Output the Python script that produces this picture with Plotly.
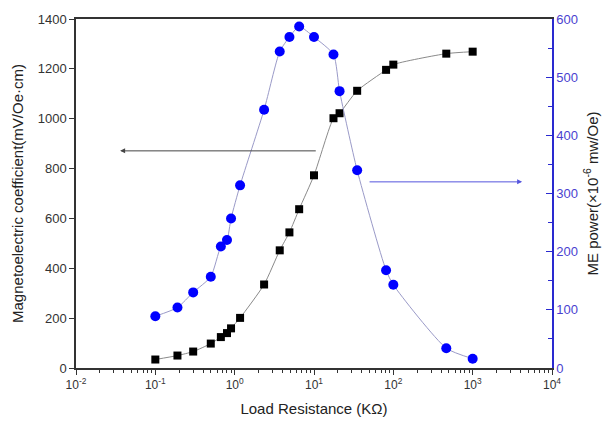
import plotly.graph_objects as go
import math

# Load resistance (kOhm)
resistance = [0.1, 0.19, 0.3, 0.5, 0.67, 0.8, 0.9, 1.17, 2.35, 3.7, 4.9, 6.5, 10, 17.6, 21, 35, 81, 100, 465, 1000]
# Magnetoelectric coefficient (mV/Oe·cm)
me_coeff = [34, 50, 66, 98, 124, 140, 159, 201, 335, 472, 544, 637, 773, 1002, 1022, 1112, 1196, 1217, 1261, 1269]
# ME power (x10^-6 mW/Oe)
me_power = [89, 104, 130, 157, 209, 220, 257, 314, 444, 544, 569, 587, 569, 539, 476, 340, 168, 143, 34, 16]

x_tickvals = [0.01, 0.1, 1, 10, 100, 1000, 10000]
x_ticktext = ["10<sup>-2</sup>", "10<sup>-1</sup>", "10<sup>0</sup>", "10<sup>1</sup>",
              "10<sup>2</sup>", "10<sup>3</sup>", "10<sup>4</sup>"]

minor_vals = [m * 10 ** e for e in range(-2, 4) for m in range(2, 10)]

BLUE = "#0000ff"
AXBLUE = "#2a2ad0"
FONT = "Liberation Sans, Arial, sans-serif"

fig = go.Figure()
fig.add_trace(go.Scatter(
    x=resistance, y=me_coeff, mode="lines+markers",
    line=dict(color="#8a8a8a", width=1, shape="spline", smoothing=0.6),
    marker=dict(symbol="square", size=8, color="black"),
    showlegend=False))
fig.add_trace(go.Scatter(
    x=resistance, y=me_power, mode="lines+markers", yaxis="y2",
    line=dict(color="#9a9ac8", width=1, shape="spline", smoothing=0.6),
    marker=dict(symbol="circle", size=10, color=BLUE),
    showlegend=False))

fig.update_layout(
    width=612, height=430,
    margin=dict(l=76, r=60, t=16, b=62),
    paper_bgcolor="white", plot_bgcolor="white",
    font=dict(family=FONT, size=13, color="#222"),
    xaxis=dict(
        type="log", range=[-2, 4],
        tickvals=x_tickvals, ticktext=x_ticktext,
        ticks="outside", ticklen=5, tickcolor="#333",
        showline=True, linecolor="#333", linewidth=1.5, mirror=True,
        showgrid=False, zeroline=False,
        minor=dict(tickvals=minor_vals, ticks="outside", ticklen=3, tickcolor="#333", showgrid=False),
        tickfont=dict(size=12, color="#333"),
        title=dict(text="Load Resistance (KΩ)", font=dict(size=15, color="#222"), standoff=12),
    ),
    yaxis=dict(
        range=[0, 1400], dtick=200,
        ticks="outside", ticklen=5, tickcolor="#333",
        showline=True, linecolor="#333", linewidth=1.5,
        showgrid=False, zeroline=False,
        tickfont=dict(size=13, color="#333"),
        title=dict(text="Magnetoelectric coefficient(mV/Oe·cm)", font=dict(size=15, color="#222"), standoff=10),
    ),
    yaxis2=dict(
        range=[0, 600], dtick=100, overlaying="y", side="right",
        ticks="inside", ticklen=6, tickcolor=AXBLUE,
        showline=True, linecolor=AXBLUE, linewidth=1.5,
        showgrid=False, zeroline=False,
        minor=dict(dtick=50, ticks="inside", ticklen=4, tickcolor=AXBLUE, showgrid=False),
        tickfont=dict(size=13, color="#4a3fd0"),
        title=dict(text="ME power(×10<sup>-6</sup> mw/Oe)", font=dict(size=15, color="#222"), standoff=10),
    ),
)

# Arrows indicating which axis each curve belongs to
fig.add_annotation(x=math.log10(0.036), y=871, xref="x", yref="y",
                   ax=math.log10(11), ay=871, axref="x", ayref="y",
                   showarrow=True, arrowhead=2, arrowsize=1, arrowwidth=1,
                   arrowcolor="#444", text="")
fig.add_annotation(x=math.log10(4200), y=320, xref="x", yref="y2",
                   ax=math.log10(48), ay=320, axref="x", ayref="y2",
                   showarrow=True, arrowhead=2, arrowsize=1, arrowwidth=1,
                   arrowcolor="#5555dd", text="")

fig.write_html("out.html")
